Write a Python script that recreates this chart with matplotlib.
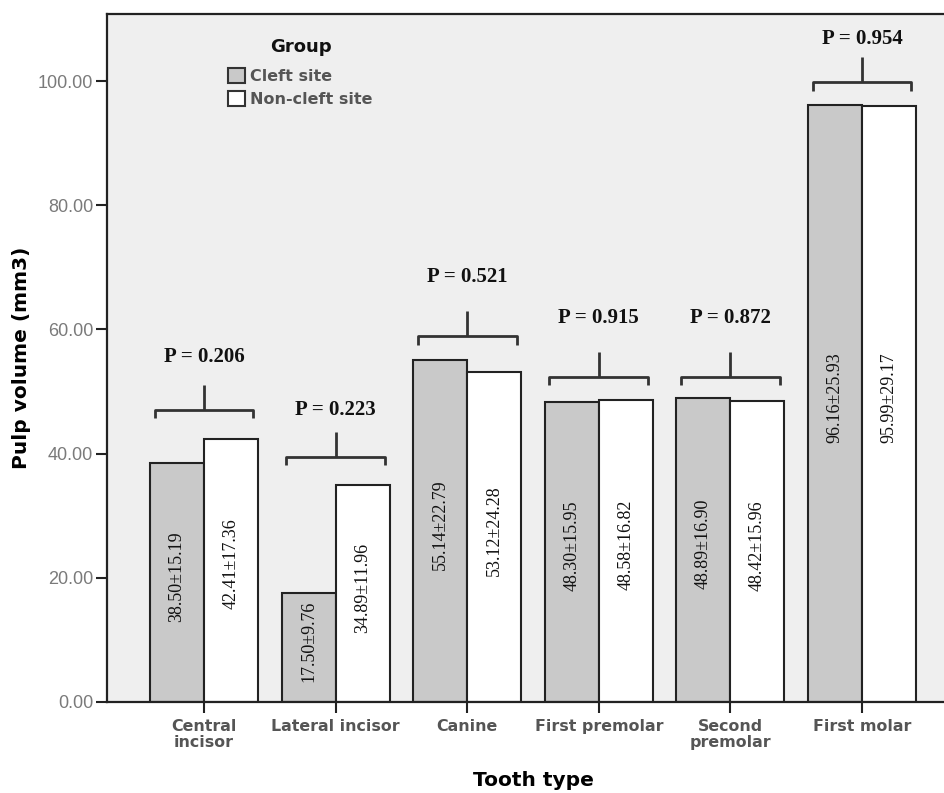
import matplotlib
matplotlib.use("Agg")
import matplotlib.pyplot as plt
from matplotlib.patches import Patch
import numpy as np

categories = ["Central\nincisor", "Lateral incisor", "Canine", "First premolar", "Second\npremolar", "First molar"]
cleft_mean = [38.50, 17.50, 55.14, 48.30, 48.89, 96.16]
cleft_sd = [15.19, 9.76, 22.79, 15.95, 16.90, 25.93]
noncleft_mean = [42.41, 34.89, 53.12, 48.58, 48.42, 95.99]
noncleft_sd = [17.36, 11.96, 24.28, 16.82, 15.96, 29.17]
p_values = ["0.206", "0.223", "0.521", "0.915", "0.872", "0.954"]
bracket_y = [47.1, 39.5, 58.9, 52.4, 52.4, 99.8]
p_text_y = [55.5, 47.1, 68.5, 61.8, 61.8, 106.8]
legend_labels = ["Cleft site", "Non-cleft site"]

W, H = 945, 793
fig = plt.figure(figsize=(W / 100, H / 100), dpi=100)
fig.patch.set_facecolor("white")

left_px, right_px, top_px, bottom_px = 107, 959, 14, 702
ax = fig.add_axes([left_px / W, (H - bottom_px) / H, (right_px - left_px) / W, (bottom_px - top_px) / H])
ax.set_facecolor("#efefef")

x = np.arange(len(categories))
bw = 0.41
edge = "#222222"
ax.bar(x - bw / 2, cleft_mean, width=bw, color="#c9c9c9", edgecolor=edge, linewidth=1.5, zorder=2)
ax.bar(x + bw / 2, noncleft_mean, width=bw, color="white", edgecolor=edge, linewidth=1.5, zorder=2)

serif = ["Liberation Serif", "DejaVu Serif"]
for i in range(len(categories)):
    ax.text(x[i] - bw / 2, cleft_mean[i] / 2 + 1, f"{cleft_mean[i]:.2f}±{cleft_sd[i]:.2f}",
            rotation=90, ha="center", va="center", fontsize=13, family=serif, color="#111111", zorder=3)
    ax.text(x[i] + bw / 2, noncleft_mean[i] / 2 + 1, f"{noncleft_mean[i]:.2f}±{noncleft_sd[i]:.2f}",
            rotation=90, ha="center", va="center", fontsize=13, family=serif, color="#111111", zorder=3)
    hw = 0.375
    yb = bracket_y[i]
    ax.plot([x[i] - hw, x[i] - hw, x[i] + hw, x[i] + hw], [yb - 1.4, yb, yb, yb - 1.4],
            color="#333333", lw=2.0, solid_joinstyle="round", solid_capstyle="butt", zorder=3)
    ax.plot([x[i], x[i]], [yb, yb + 4.0], color="#333333", lw=2.0, solid_capstyle="butt", zorder=3)
    ax.text(x[i], p_text_y[i], f"P = {p_values[i]}", ha="center", va="center",
            fontsize=15, fontweight="bold", family=serif, color="#111111", zorder=3)

ax.set_xlim(-0.737, 5.737)
ax.set_ylim(0, 110.8)
ax.set_yticks([0, 20, 40, 60, 80, 100])
ax.set_yticklabels([f"{v:.2f}" for v in [0, 20, 40, 60, 80, 100]],
                   fontsize=13, family=["Liberation Sans"], color="#7a7a7a")
ax.set_xticks(x)
ax.set_xticklabels(categories, fontsize=11.4, fontweight="bold", family=["DejaVu Sans"],
                   color="#555555", linespacing=1.1)
ax.tick_params(axis="both", direction="out", length=8, width=1.5, color="#222222")
ax.tick_params(axis="x", pad=4)
ax.tick_params(axis="y", pad=2)

for s in ["left", "bottom", "top", "right"]:
    ax.spines[s].set_linewidth(1.6)
    ax.spines[s].set_color("#222222")

ax.set_ylabel("Pulp volume (mm3)", fontsize=14.5, fontweight="bold", family=["DejaVu Sans"], labelpad=5)
ax.set_xlabel("Tooth type", fontsize=14.5, fontweight="bold", family=["DejaVu Sans"], labelpad=15)

fig.text(301 / W, 1 - 47 / H, "Group", ha="center", va="center", fontsize=13,
         fontweight="bold", family=["DejaVu Sans"], color="#111111")
handles = [Patch(facecolor="#c9c9c9", edgecolor="#333333", linewidth=1.5),
           Patch(facecolor="white", edgecolor="#333333", linewidth=1.5)]
leg = ax.legend(handles, legend_labels,
                loc="upper left", bbox_to_anchor=(228 / W, 1 - 68 / H), bbox_transform=fig.transFigure,
                frameon=False, handlelength=1.05, handleheight=1.05, handletextpad=0.3,
                labelspacing=0.45, borderpad=0.0, borderaxespad=0.0,
                prop={"family": "DejaVu Sans", "weight": "bold", "size": 11.5})
for t in leg.get_texts():
    t.set_color("#555555")

fig.savefig("out.png", dpi=100, facecolor="white")
